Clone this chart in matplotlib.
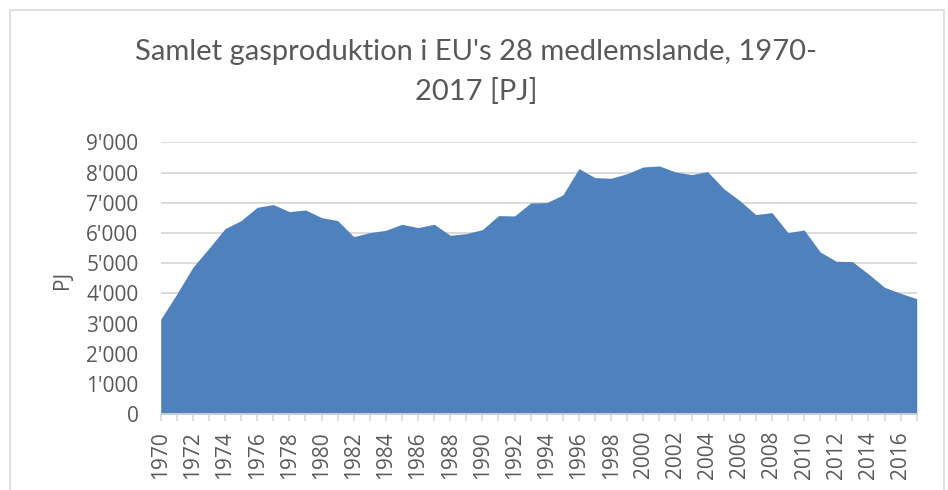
import matplotlib
matplotlib.use("Agg")
import matplotlib.pyplot as plt
from matplotlib.patches import Rectangle
from matplotlib.ticker import FuncFormatter, MultipleLocator

years = list(range(1970, 2018))
production_pj = [
    3143, 3980, 4864, 5493, 6144, 6409, 6850, 6938, 6706, 6762,
    6508, 6409, 5879, 6011, 6089, 6287, 6177, 6287, 5923, 5978,
    6111, 6574, 6563, 6993, 7004, 7258, 8129, 7831, 7809, 7964,
    8184, 8217, 8019, 7931, 8030, 7467, 7070, 6607, 6673, 6011,
    6100, 5372, 5063, 5052, 4644, 4202, 4004, 3827,
]
title = "Samlet gasproduktion i EU's 28 medlemslande, 1970-\n2017 [PJ]"
y_label = "PJ"

W, H = 948, 490
fig = plt.figure(figsize=(W / 100, H / 100), dpi=100)
fig.patch.set_facecolor("white")

# chart border
fig.patches.append(Rectangle((10 / W, -0.05), 934 / W, 1.05 - 10 / H,
                             transform=fig.transFigure, fill=False,
                             edgecolor="#D9D9D9", linewidth=1.2))

left, right = 160.7, 916.7
top, bottom = 142.3, 414.3
ax = fig.add_axes([left / W, 1 - bottom / H, (right - left) / W, (bottom - top) / H])

ax.fill_between(years, production_pj, 0, color="#4F81BD", linewidth=0, zorder=2)
ax.set_xlim(1970, 2017)
ax.set_ylim(0, 9000)

ax.yaxis.set_major_locator(MultipleLocator(1000))
ax.yaxis.set_major_formatter(FuncFormatter(lambda v, p: f"{int(v):,}".replace(",", "'")))
ax.grid(axis="y", color="#D9D9D9", linewidth=1.3, zorder=1)
ax.set_axisbelow(True)

ax.set_xticks([y for y in years if y % 2 == 0])
ax.set_xticklabels([str(y) for y in years if y % 2 == 0], rotation=90)
ax.set_xticks([y for y in years if y % 2 == 1], minor=True)

for lab in ax.get_xticklabels() + ax.get_yticklabels():
    lab.set_fontfamily("Open Sans")
    lab.set_fontsize(15)
    lab.set_color("#595959")

ax.tick_params(axis="y", length=0, pad=16)
ax.tick_params(axis="x", which="both", length=5, color="#D9D9D9", width=1.2, pad=7)

for s in ["top", "right", "left"]:
    ax.spines[s].set_visible(False)
ax.spines["bottom"].set_color("#D9D9D9")
ax.spines["bottom"].set_linewidth(1.2)

fig.text(62 / W, 1 - 280 / H, y_label, rotation=90, ha="center", va="center",
         fontfamily="Open Sans", fontsize=15, color="#595959")

fig.text(476 / W, 1 - 72 / H, title, ha="center", va="center",
         fontfamily="Lato", fontsize=21, color="#595959", linespacing=1.62)

fig.savefig("out.png", dpi=100, facecolor="white")
